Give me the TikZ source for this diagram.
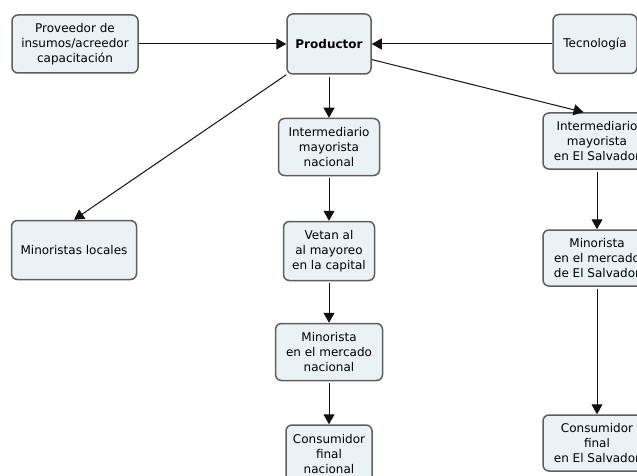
\documentclass[tikz,border=0pt]{standalone}
\usepackage{fontspec}
\setmainfont{DejaVu Sans}
\usepackage{tikz}
\usetikzlibrary{arrows.meta,positioning,calc}
\definecolor{boxfill}{HTML}{EBF2F5}
\definecolor{boxline}{HTML}{5E5E5E}
\definecolor{linkline}{HTML}{111111}
\tikzset{
  conceptbox/.style={
    rectangle, rounded corners=6pt, draw=boxline, fill=boxfill,
    line width=1.5pt, align=center, inner sep=2pt,
    font=\fontsize{12}{15}\selectfont
  },
  linkarrow/.style={
    -{Triangle[length=10pt,width=11pt]}, line width=1pt, color=linkline
  },
}
\begin{document}
\begin{tikzpicture}[x=1pt, y=-1pt]
\useasboundingbox (0,0) rectangle (637,476);
\clip (0,0) rectangle (637,476);
% top row
\node[conceptbox, minimum width=126pt, minimum height=58pt] (prov) at (75,44) {Proveedor de\\insumos/acreedor\\capacitación};
\node[conceptbox, minimum width=84pt, minimum height=60pt, font=\fontsize{12}{15}\selectfont\bfseries] (prod) at (329,44) {Productor};
\node[conceptbox, minimum width=84pt, minimum height=59pt] (tec) at (595,44) {Tecnología};
% national chain
\node[conceptbox, minimum width=101pt, minimum height=57pt] (intnac) at (329,147) {Intermediario\\mayorista\\nacional};
\node[conceptbox, minimum width=91pt, minimum height=59pt] (vetan) at (329,251) {Vetan al\\al mayoreo\\en la capital};
\node[conceptbox, minimum width=107pt, minimum height=57pt] (minnac) at (329,352) {Minorista\\en el mercado\\nacional};
\node[conceptbox, minimum width=86pt, minimum height=58pt] (consnac) at (329,454) {Consumidor\\final\\nacional};
% local
\node[conceptbox, minimum width=125pt, minimum height=59pt] (minloc) at (74,250) {Minoristas locales};
% El Salvador chain
\node[conceptbox, minimum width=108pt, minimum height=56pt] (intsv) at (597,141) {Intermediario\\mayorista\\en El Salvador};
\node[conceptbox, minimum width=108pt, minimum height=56pt] (minsv) at (597,258) {Minorista\\en el mercado\\de El Salvador};
\node[conceptbox, minimum width=108pt, minimum height=56pt] (conssv) at (597,443) {Consumidor\\final\\en El Salvador};

\draw[linkarrow] (prov) -- (prod);
\draw[linkarrow] (tec) -- (prod);
\draw[linkarrow] ([yshift=-2pt]prod.south) -- (intnac);
\draw[linkarrow] (prod.south west) -- (minloc.north);
\draw[linkarrow] (prod.-20) -- (intsv.115);
\draw[linkarrow] ([yshift=-2pt]intnac.south) -- (vetan);
\draw[linkarrow] ([yshift=-2pt]vetan.south) -- (minnac);
\draw[linkarrow] ([yshift=-2pt]minnac.south) -- (consnac);
\draw[linkarrow] ([yshift=-2pt]intsv.south) -- (minsv);
\draw[linkarrow] ([yshift=-2pt]minsv.south) -- (conssv);
\end{tikzpicture}
\end{document}
